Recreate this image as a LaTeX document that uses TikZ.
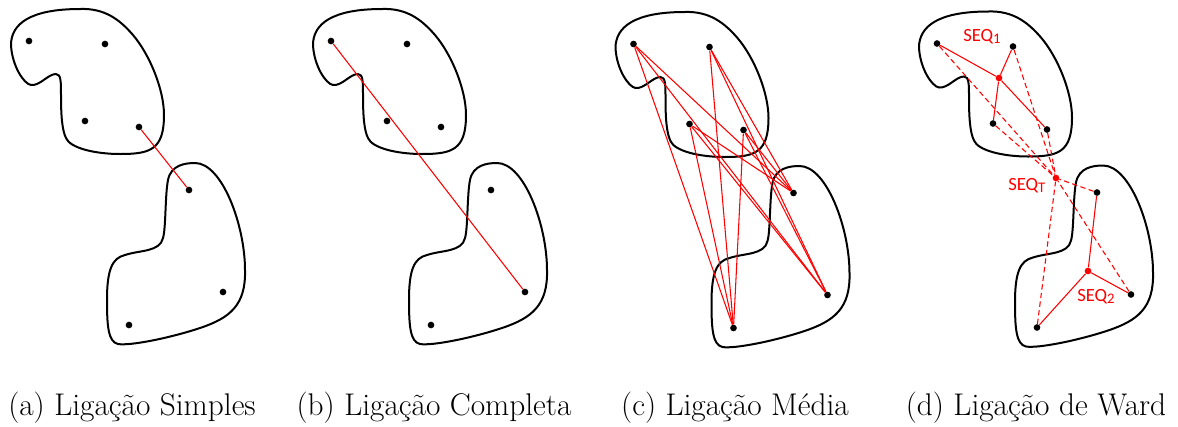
\documentclass[tikz,border=0pt]{standalone}
\usepackage{fontspec}
\newfontfamily\seqfont{Carlito}
\tikzset{
  blob/.style={draw=black, line width=1.5pt},
  dot/.style={circle, fill=black, inner sep=0pt, minimum size=5pt},
  cdot/.style={circle, fill=red, inner sep=0pt, minimum size=5pt},
  link/.style={red, line width=0.8pt},
  dlink/.style={red, line width=0.8pt, dash pattern=on 4pt off 2.5pt},
  seq/.style={red, font=\seqfont\fontsize{14}{16}\selectfont, inner sep=0pt, anchor=base west},
  caption/.style={font=\fontsize{23.5}{28}\selectfont, inner sep=0pt, anchor=base},
}
% the two clusters of one panel
\newcommand\clusters{%
  \draw[blob] (56,74)
    .. controls (48,74) and (40,86) .. (31,85)
    .. controls (24,84) and (12,66) .. (11,45)
    .. controls (11,24) and (30,9) .. (80,9)
    .. controls (105,8) and (120,20) .. (133,35)
    .. controls (150,55) and (164,90) .. (164,115)
    .. controls (164,150) and (150,154) .. (120,154)
    .. controls (95,154) and (70,148) .. (66,138)
    .. controls (62,130) and (61,115) .. (61,95)
    .. controls (61,82) and (61,74) .. cycle;
  \draw[blob] (195,163)
    .. controls (222,163) and (245,225) .. (245,270)
    .. controls (246,305) and (230,318) .. (200,328)
    .. controls (170,338) and (130,346) .. (118,344)
    .. controls (108,342) and (107,325) .. (107,300)
    .. controls (107,270) and (112,258) .. (125,255)
    .. controls (140,250) and (160,252) .. (163,238)
    .. controls (166,228) and (165,195) .. (168,180)
    .. controls (171,165) and (185,163) .. cycle;
}
% the seven members of the clusters
\newcommand\members[1]{%
  \node[dot] (#1-1) at (29,41) {};
  \node[dot] (#1-2) at (105,44) {};
  \node[dot] (#1-3) at (85,121) {};
  \node[dot] (#1-4) at (139,127) {};
  \node[dot] (#1-5) at (189,190) {};
  \node[dot] (#1-6) at (223,292) {};
  \node[dot] (#1-7) at (129,325) {};
}
\begin{document}
\begin{tikzpicture}[x=0.75pt, y=-0.75pt]
\useasboundingbox (0,0) rectangle (1178,426);

\begin{scope}[shift={(0,0)}]     \clusters \members{a} \end{scope}
\begin{scope}[shift={(302,0)}]   \clusters \members{b} \end{scope}
\begin{scope}[shift={(604.5,3)}] \clusters \members{c} \end{scope}
\begin{scope}[shift={(908,2.5)}]
  \clusters \members{d}
  \node[cdot] (s1) at (91,75.5) {};
  \node[cdot] (sT) at (148,175.5) {};
  \node[cdot] (s2) at (180,268.5) {};
\end{scope}

% (a) single linkage
\draw[link] (a-4) -- (a-5);
% (b) complete linkage
\draw[link] (b-1) -- (b-6);
% (c) average linkage
\foreach \i in {1,...,4}
  \foreach \j in {5,6,7}
    \draw[link] (c-\i) -- (c-\j);
% (d) Ward linkage
\draw[link] (d-1) -- (s1);
\draw[link] (s1) -- (d-4);
\draw[link] (d-2) -- (s1);
\draw[link] (s1) -- (d-3);
\foreach \j in {5,6,7}
  \draw[link] (s2) -- (d-\j);
\foreach \i in {1,...,7}
  \draw[dlink] (d-\i) -- (sT);

\node[seq] (l1) at (963,41) {SEQ\raisebox{-1.5pt}{\fontsize{11}{12}\selectfont 1}};
\node[seq] (lT) at (1008,190) {SEQ\raisebox{-1.5pt}{\fontsize{11}{12}\selectfont T}};
\node[seq] (l2) at (1077,301) {SEQ\raisebox{-1.5pt}{\fontsize{11}{12}\selectfont 2}};

\node[caption] (capa) at (132,415) {(a) Ligação Simples};
\node[caption] (capb) at (434,415) {(b) Ligação Completa};
\node[caption] (capc) at (735,415) {(c) Ligação Média};
\node[caption] (capd) at (1036,415) {(d) Ligação de Ward};
\end{tikzpicture}
\end{document}
